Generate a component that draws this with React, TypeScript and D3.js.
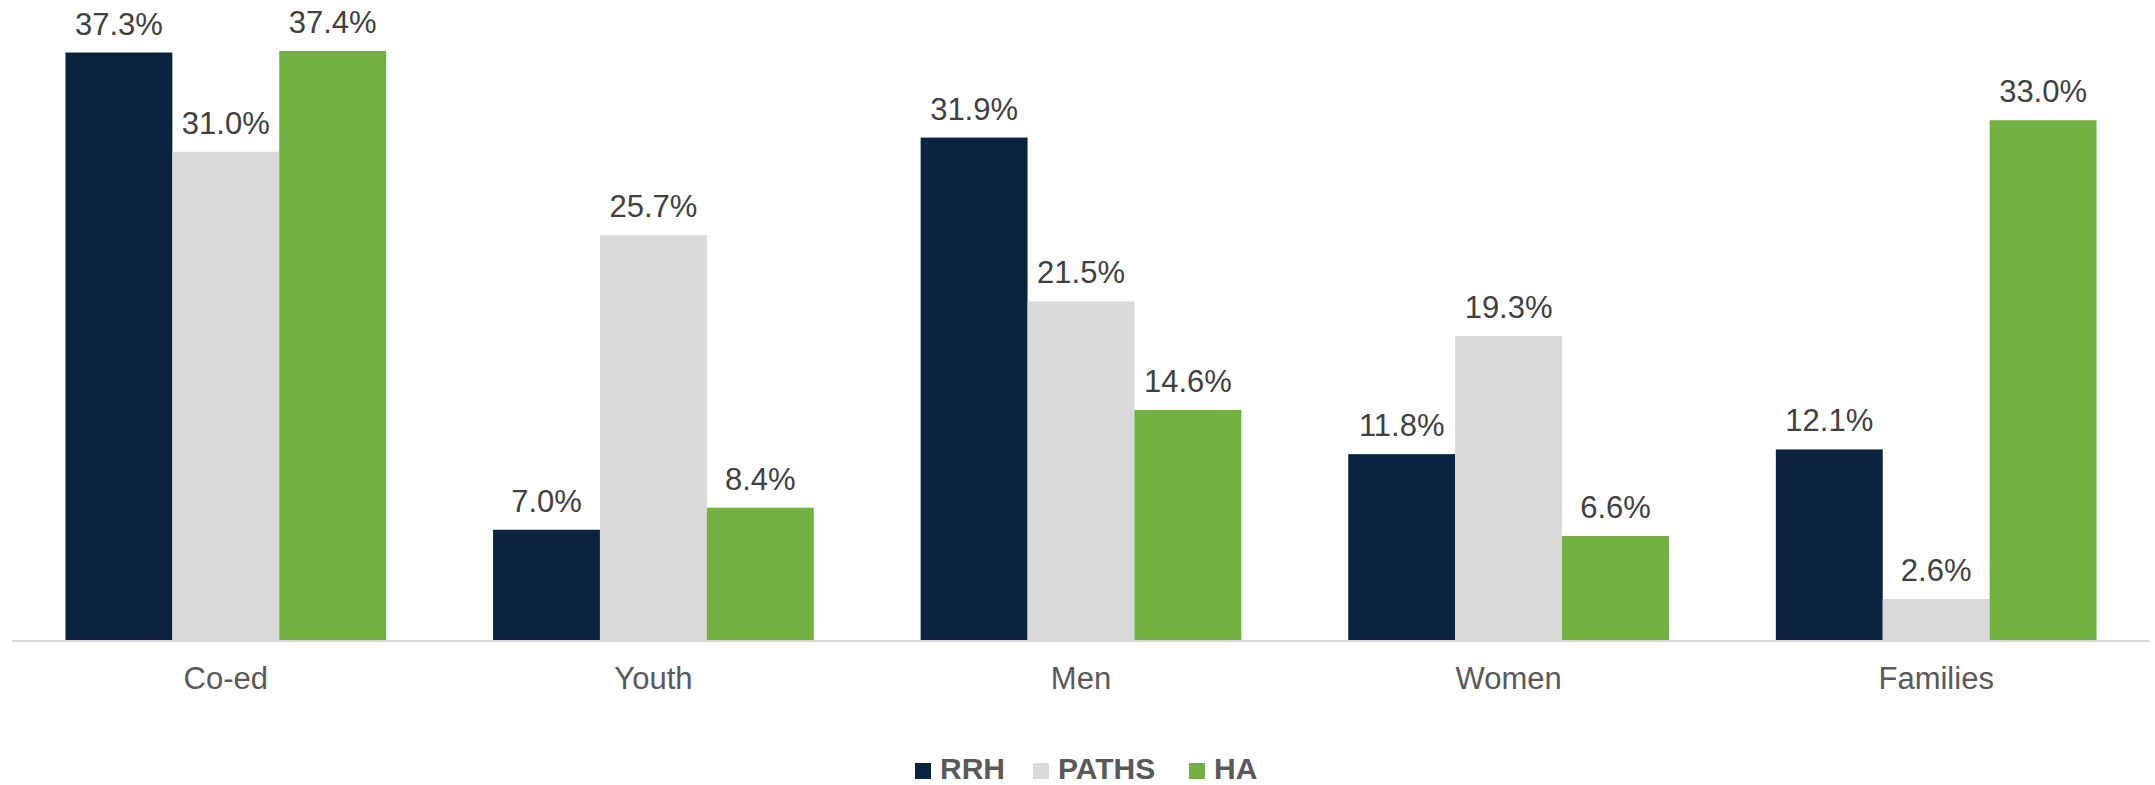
import React, { useEffect, useRef } from 'react'
import * as d3 from 'd3'

const categories = ['Co-ed', 'Youth', 'Men', 'Women', 'Families']
const seriesNames = ['RRH', 'PATHS', 'HA']
const rrh = [37.3, 7.0, 31.9, 11.8, 12.1]
const paths = [31.0, 25.7, 21.5, 19.3, 2.6]
const ha = [37.4, 8.4, 14.6, 6.6, 33.0]
const colors = ['#0c2340', '#d9d9d9', '#72b042']

export default function App() {
  const ref = useRef<HTMLDivElement>(null)

  useEffect(() => {
    const w = 2155
    const h = 785
    const baseline = 640
    const left = 12
    const right = 2150

    const values = [rrh, paths, ha]

    d3.select(ref.current).selectAll('*').remove()
    const svg = d3
      .select(ref.current)
      .append('svg')
      .attr('width', w)
      .attr('height', h)
      .style('position', 'absolute')
      .style('left', 0)
      .style('top', 0)
      .style('font-family', '"Liberation Sans", Arial, sans-serif')

    const x0 = d3
      .scaleBand()
      .domain(categories)
      .range([left, right])
      .paddingInner(0.25)
      .paddingOuter(0.125)
    const x1 = d3.scaleBand().domain(seriesNames).range([0, x0.bandwidth()])
    const y = d3.scaleLinear().domain([0, 40]).range([baseline, 10])

    // bars + value labels, one group per series
    seriesNames.forEach((name, si) => {
      const g = svg.append('g')
      const data = categories.map((c, i) => ({ c, v: values[si][i] }))
      g.selectAll('rect')
        .data(data)
        .enter()
        .append('rect')
        .attr('x', d => (x0(d.c) as number) + (x1(name) as number))
        .attr('y', d => y(d.v))
        .attr('width', x1.bandwidth())
        .attr('height', d => baseline - y(d.v))
        .attr('fill', colors[si])
      g.selectAll('text')
        .data(data)
        .enter()
        .append('text')
        .text(d => `${d.v.toFixed(1)}%`)
        .attr('x', d => (x0(d.c) as number) + (x1(name) as number) + x1.bandwidth() / 2)
        .attr('y', d => y(d.v) - 18)
        .attr('text-anchor', 'middle')
        .attr('font-size', '31px')
        .attr('fill', '#404040')
    })

    // axis line
    svg.append('line')
      .attr('x1', left)
      .attr('x2', right)
      .attr('y1', baseline + 1)
      .attr('y2', baseline + 1)
      .attr('stroke', '#d9d9d9')
      .attr('stroke-width', 2)

    // category labels
    svg.selectAll('text.cat')
      .data(categories)
      .enter()
      .append('text')
      .attr('class', 'cat')
      .text(d => d)
      .attr('x', d => (x0(d) as number) + x0.bandwidth() / 2)
      .attr('y', 689)
      .attr('text-anchor', 'middle')
      .attr('font-size', '31px')
      .attr('fill', '#595959')

    // legend
    const legendX = [915, 1033, 1189]
    const lg = svg.append('g')
    seriesNames.forEach((name, i) => {
      lg.append('rect')
        .attr('x', legendX[i])
        .attr('y', 763)
        .attr('width', 16)
        .attr('height', 16)
        .attr('fill', colors[i])
      lg.append('text')
        .text(name)
        .attr('x', legendX[i] + 25)
        .attr('y', 779)
        .attr('font-size', '30px')
        .attr('font-weight', 'bold')
        .attr('fill', '#595959')
    })
  }, [])

  return <div ref={ref} />
}
